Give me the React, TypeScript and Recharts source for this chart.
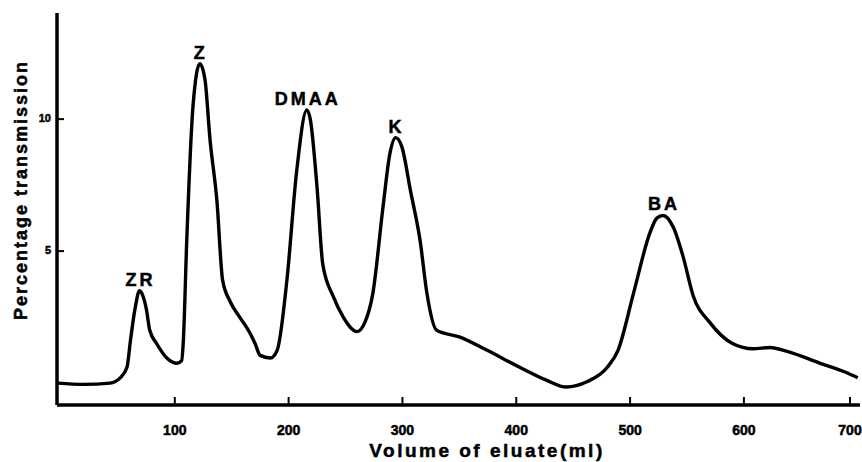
import { LineChart, Line, XAxis, YAxis, Label, LabelList } from 'recharts';

// elution volume (ml) and percentage transmission
const volume = [
    -3, 20, 43, 52, 58, 61, 65, 69, 72, 75, 78, 84, 93, 102, 106, 107.5, 110.5, 116, 122, 126.5,
    131, 137, 142, 148.5, 157, 166, 170.5, 175, 184, 190, 198.5, 207, 216, 219, 225, 230, 239, 248,
    260, 267, 274, 283, 289, 294, 299.5, 307, 315.5, 321.5, 330, 350, 374, 403, 427, 444, 462, 480,
    489.5, 503, 517.5, 523.5, 529, 538, 546.5, 555.5, 570, 590, 608, 623, 638, 667, 690, 700,
];
const transmission = [
    0, -0.05, 0, 0.2, 0.6, 1.6, 2.8, 3.5, 3.3, 2.8, 2.0, 1.5, 0.95, 0.75, 0.85, 1.6, 5.4, 10.5, 12.1, 11.5,
    9.2, 6.9, 3.9, 3.1, 2.5, 1.9, 1.5, 1.05, 0.95, 1.25, 3.9, 8.0, 10.35, 10.0, 7.4, 4.5, 3.3, 2.5,
    1.95, 2.3, 3.4, 6.7, 8.7, 9.3, 8.95, 7.3, 5.4, 3.4, 2.0, 1.75, 1.25, 0.6, 0.1, -0.15, 0.05, 0.6,
    1.25, 3.4, 5.7, 6.25, 6.35, 5.9, 4.8, 3.3, 2.3, 1.5, 1.3, 1.35, 1.2, 0.75, 0.4, 0.2,
];

// peak names and the volume where each one tops out
const peakNames = ['ZR', 'Z', 'DMAA', 'K', 'BA'];
const peakVolumes = [69, 122, 216, 294, 529];

const xTicks = [100, 200, 300, 400, 500, 600, 700];
const yTicks = [5, 10];

const data = volume.map((v, i) => {
    const p = peakVolumes.indexOf(v);
    return { v, t: transmission[i], name: p >= 0 ? peakNames[p] : undefined };
});

const FONT = '"Liberation Sans", Arial, sans-serif';
// the scanned lettering is heavier than a plain bold face
const heavy = { fontFamily: FONT, fontWeight: 'bold', fill: '#000', stroke: '#000', strokeWidth: 0.5 };

const XTick = ({ x, y, payload }: any) => (
    <g>
        <line x1={x} y1={y} x2={x} y2={y - 8} stroke="#000" strokeWidth={2} />
        <text x={x} y={y + 30} textAnchor="middle" fontSize={14} {...heavy}>
            {payload.value}
        </text>
    </g>
);

const YTick = ({ x, y, payload }: any) => (
    <g>
        <line x1={x} y1={y} x2={x + 7} y2={y} stroke="#000" strokeWidth={2} />
        <text x={x - 6} y={y + 3} textAnchor="end" fontSize={11} {...heavy}>
            {payload.value}
        </text>
    </g>
);

const PeakLabel = ({ x, y, value }: any) => {
    if (!value) return null;
    return (
        <text x={x + 1} y={y - 5} textAnchor="middle" fontSize={18} letterSpacing={3} {...heavy}>
            {value}
        </text>
    );
};

const XTitle = () => (
    <text x={487} y={457} textAnchor="middle" fontSize={19} letterSpacing={2.5} {...heavy}>
        Volume of eluate(ml)
    </text>
);

const YTitle = () => (
    <text x={27} y={190} textAnchor="middle" fontSize={18} letterSpacing={2} {...heavy}
        transform="rotate(-90 27 190)">
        Percentage transmission
    </text>
);

export default function App() {
    return (
        <div style={{ position: 'absolute', left: 0, top: 0, width: 862, height: 462, background: '#fff' }}>
            <LineChart width={862} height={462} data={data} margin={{ top: 13, right: 2, bottom: 7, left: 7 }}>
                <XAxis
                    type="number"
                    dataKey="v"
                    domain={[-3.5, 702]}
                    ticks={xTicks}
                    height={50}
                    tickSize={0}
                    tickMargin={0}
                    tick={<XTick />}
                    axisLine={{ stroke: '#000', strokeWidth: 3.5 }}
                    allowDataOverflow
                >
                    <Label content={<XTitle />} />
                </XAxis>
                <YAxis
                    type="number"
                    domain={[-0.83, 14.02]}
                    ticks={yTicks}
                    width={50}
                    tickSize={0}
                    tickMargin={0}
                    tick={<YTick />}
                    axisLine={{ stroke: '#000', strokeWidth: 3.5 }}
                    allowDataOverflow
                >
                    <Label content={<YTitle />} />
                </YAxis>
                <Line
                    type="monotone"
                    dataKey="t"
                    stroke="#000"
                    strokeWidth={3.4}
                    dot={false}
                    isAnimationActive={false}
                >
                    <LabelList dataKey="name" content={<PeakLabel />} />
                </Line>
            </LineChart>
        </div>
    );
}
